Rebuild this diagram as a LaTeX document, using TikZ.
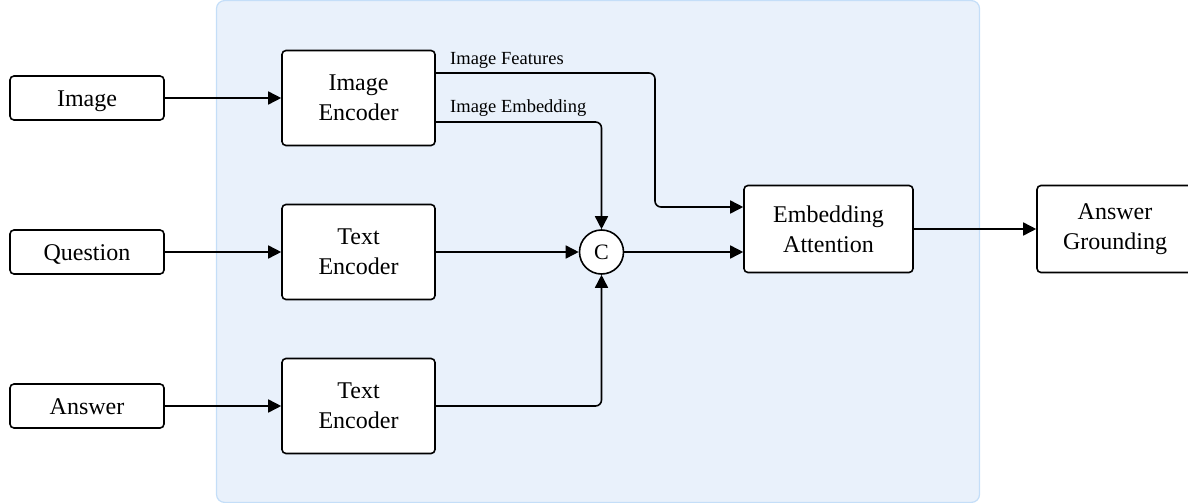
\documentclass[tikz,border=0pt]{standalone}
\usepackage{fontspec}
\setmainfont{Liberation Serif}
\usetikzlibrary{arrows.meta,calc}
\definecolor{panelfill}{HTML}{E9F1FB}
\definecolor{panelline}{HTML}{C4DEF8}
\begin{document}
\begin{tikzpicture}[x=1pt,y=-1pt,
  box/.style={draw=black,line width=1.6pt,fill=white,rounded corners=4pt,
    align=center,inner sep=0pt,font=\fontsize{24}{30}\selectfont},
  inbox/.style={box,minimum width=154pt,minimum height=44pt,text height=16pt,text depth=0pt},
  encbox/.style={box,minimum width=153pt,minimum height=95pt},
  conn/.style={draw=black,line width=1.6pt,rounded corners=6pt,
    -{Triangle[length=13pt,width=13pt]}},
  lbl/.style={anchor=base west,inner sep=0pt,font=\fontsize{18.5}{22}\selectfont}]
\useasboundingbox (0,0) rectangle (1188,503);
\clip (0,0) rectangle (1188,503);
% encoder panel
\draw[fill=panelfill,draw=panelline,line width=1.2pt,rounded corners=8pt]
  (216.5,0.6) rectangle (979.5,502.4);

% inputs
\node[inbox] (img) at (87,98) {Image};
\node[inbox] (q)   at (87,252) {Question};
\node[inbox] (ans) at (87,406) {Answer};

% encoders
\node[encbox] (ienc)  at (358.5,98) {Image\\Encoder};
\node[encbox] (tenc1) at (358.5,252) {Text\\Encoder};
\node[encbox] (tenc2) at (358.5,406) {Text\\Encoder};

% concatenation
\node[circle,draw=black,line width=1.6pt,fill=white,minimum size=44pt,inner sep=0pt,
  font=\fontsize{22}{26}\selectfont] (cat) at (601.5,252) {C};

% attention and output
\node[box,minimum width=169pt,minimum height=87pt] (ea) at (828.5,229) {Embedding\\Attention};
\node[box,minimum width=156pt,minimum height=87pt] (ag) at (1115,229) {Answer\\Grounding};

% routing points
\coordinate (ftop) at (655,73);
\coordinate (fbot) at (655,207);
\coordinate (etop) at (601.5,122);

% connectors
\draw[conn] (img) -- (ienc.west |- img);
\draw[conn] (q) -- (tenc1.west |- q);
\draw[conn] (ans.east) -- (tenc2.west |- ans.east);
\draw[conn] (ienc.east |- ftop) -- (ftop) -- (fbot) -- (ea.west |- fbot);
\draw[conn] (ienc.east |- etop) -- (etop) -- (cat.north);
\draw[conn] (tenc1.east) -- (cat.west);
\draw[conn] (tenc2.east) -- (tenc2.east -| cat) -- (cat.south);
\draw[conn] (cat.east) -- (ea.west |- cat.east);
\draw[conn] (ea.east) -- (ag.west);

% connector labels
\node[lbl] (lf) at (450,65) {Image Features};
\node[lbl] (le) at (450,112) {Image Embedding};
\end{tikzpicture}
\end{document}
